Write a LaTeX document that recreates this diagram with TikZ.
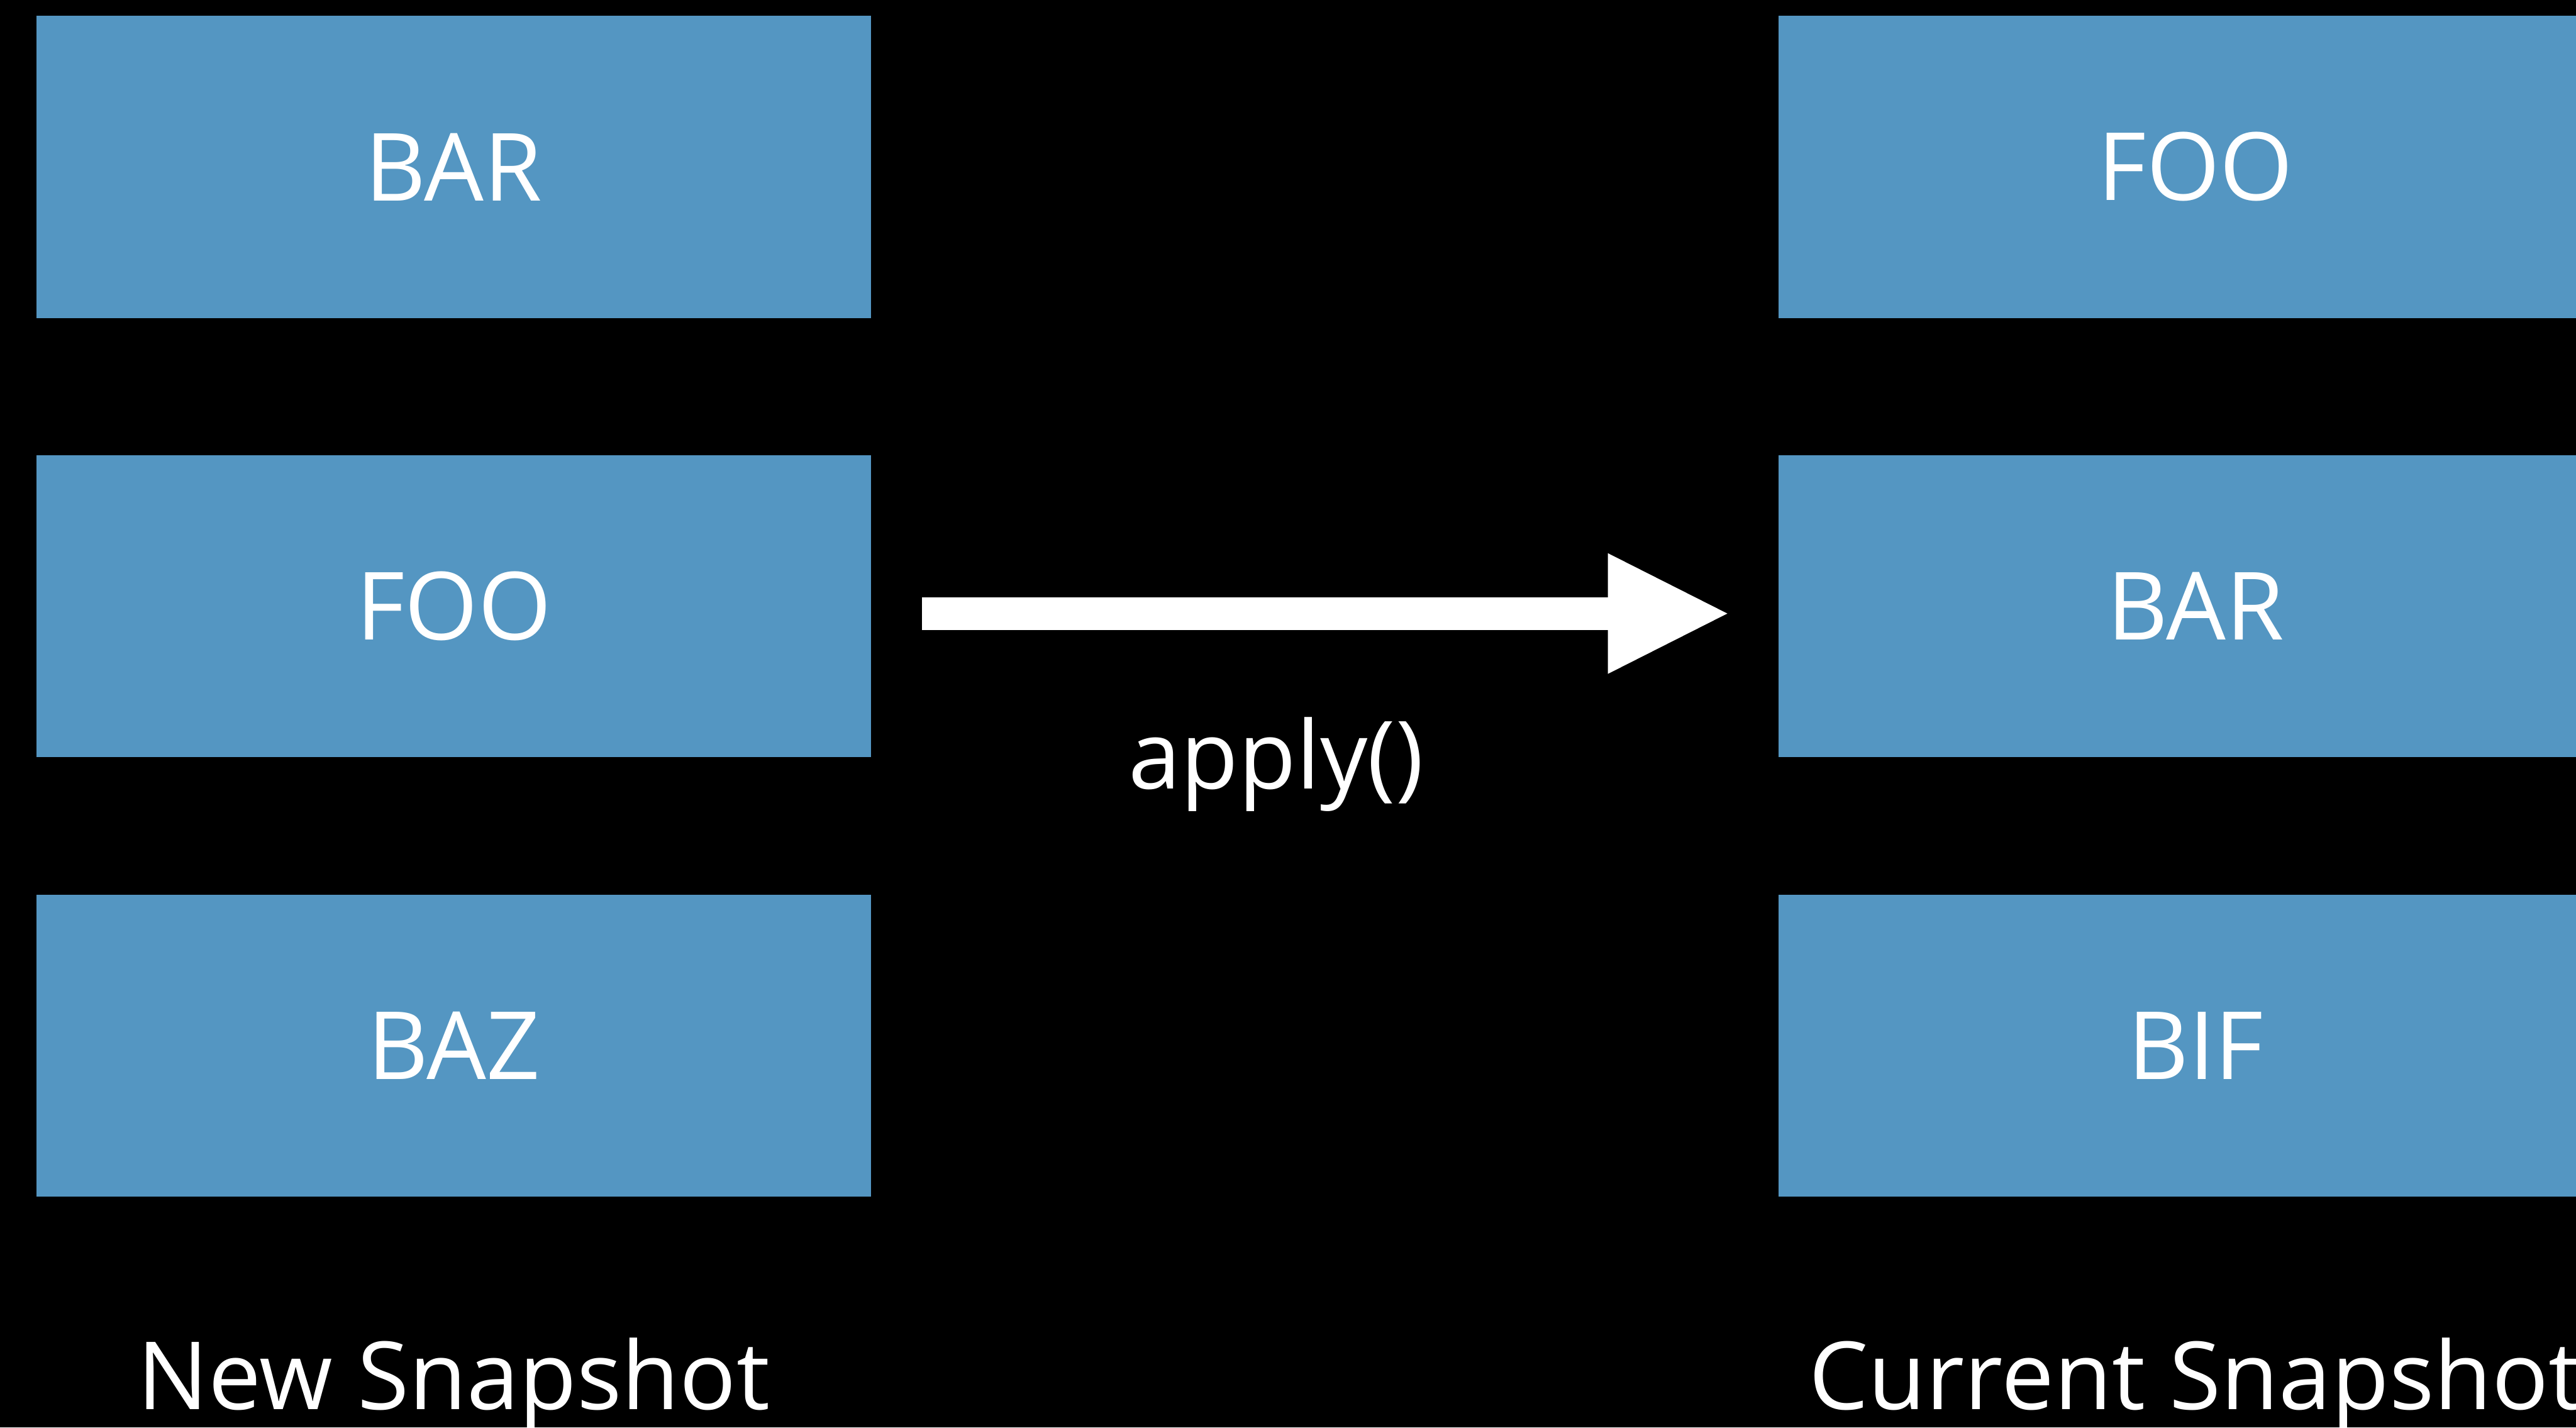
\documentclass[tikz,border=0pt]{standalone}
\usepackage{fontspec}
\setmainfont{Open Sans}
\usepackage{tikz}
\usetikzlibrary{arrows.meta,positioning,calc}
\definecolor{snapblue}{RGB}{84,150,194}
\tikzstyle{record} = [rectangle, fill=snapblue, text=white, text centered, inner sep=0pt, minimum width=13.7cm, minimum height=4.96cm, font=\fontsize{44}{52}\selectfont]
\tikzstyle{caption} = [text=white, anchor=base, inner sep=0pt, font=\fontsize{44}{52}\selectfont]
\tikzstyle{connector} = [white, line width=0.54cm, -{Triangle[length=1.96cm, width=1.98cm, line width=0pt]}, shorten <= 0.83cm, shorten >= 0.83cm]

\begin{document}
\begin{tikzpicture}
            \useasboundingbox (0,0) rectangle (42.29,-23.44);
            \fill [black] (0,0) rectangle (42.29,-23.44);
            \clip (0,0) rectangle (42.29,-23.44);
            \node (newbar) [record] at (7.45,-2.74) {BAR};
            \node (newfoo) [record, below=2.24cm of newbar] {FOO};
            \node (newbaz) [record, below=2.24cm of newfoo] {BAZ};
            \node (curfoo) [record, right=14.88cm of newbar] {FOO};
            \node (curbar) [record, below=2.24cm of curfoo] {BAR};
            \node (curbif) [record, below=2.24cm of curbar] {BIF};
            \node (newlabel) [caption] at ($(newbaz.south)+(0,-3.49)$) {New Snapshot};
            \node (curlabel) [caption] at ($(curbif.south)+(0,-3.49)$) {Current Snapshot};
            \node (apply) [caption] at (20.95,-12.95) {apply()};
            \draw [connector] ([yshift=-0.12cm]newfoo.east) -- ([yshift=-0.12cm]curbar.west);
\end{tikzpicture}
\end{document}
